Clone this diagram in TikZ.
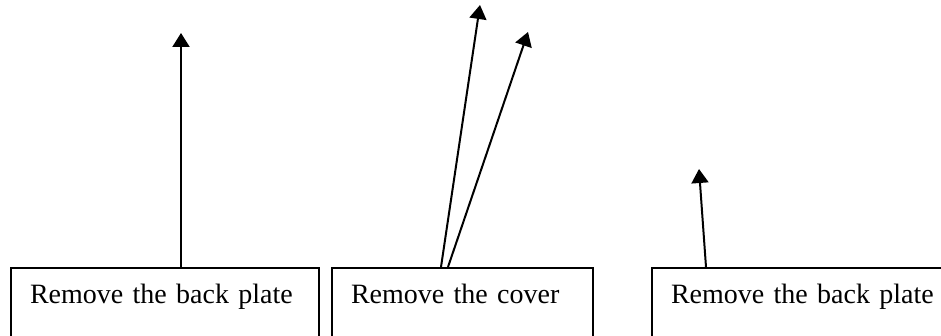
\documentclass[tikz,border=0pt]{standalone}
\usepackage{fontspec}
\setmainfont{Liberation Serif}
\usepackage{tikz}
\usetikzlibrary{arrows.meta}
\tikzset{taskbox/.style={draw, line width=1pt, anchor=north west, align=left, inner xsep=9.5pt, inner ysep=7.5pt, text height=10pt, text depth=40pt, font=\fontsize{14}{16}\selectfont}}
\tikzset{uparrow/.style={line width=1pt, -{Triangle[length=7pt,width=8.5pt]}}}

\begin{document}
\begin{tikzpicture}[x=0.5pt,y=-0.5pt]
\clip (0,0) rectangle (941,336);
\node [taskbox, text width=135pt] (b1) at (10,267) {Remove the back plate};
\node [taskbox, text width=111.5pt] (b2) at (331,267) {Remove the cover};
\node [taskbox, text width=140pt] (b3) at (651,267) {Remove the back plate};
\coordinate (t1) at (181,33);
\coordinate (t2) at (480,5);
\coordinate (t3) at (528,32);
\coordinate (t4) at (699,169);
\coordinate (s2) at (441,0);
\coordinate (s3) at (448,0);
\coordinate (s4) at (706,0);
\draw [uparrow] (t1 |- b1.north) -- (t1);
\draw [uparrow] (s2 |- b2.north) -- (t2);
\draw [uparrow] (s3 |- b2.north) -- (t3);
\draw [uparrow] (s4 |- b3.north) -- (t4);
\end{tikzpicture}
\end{document}
